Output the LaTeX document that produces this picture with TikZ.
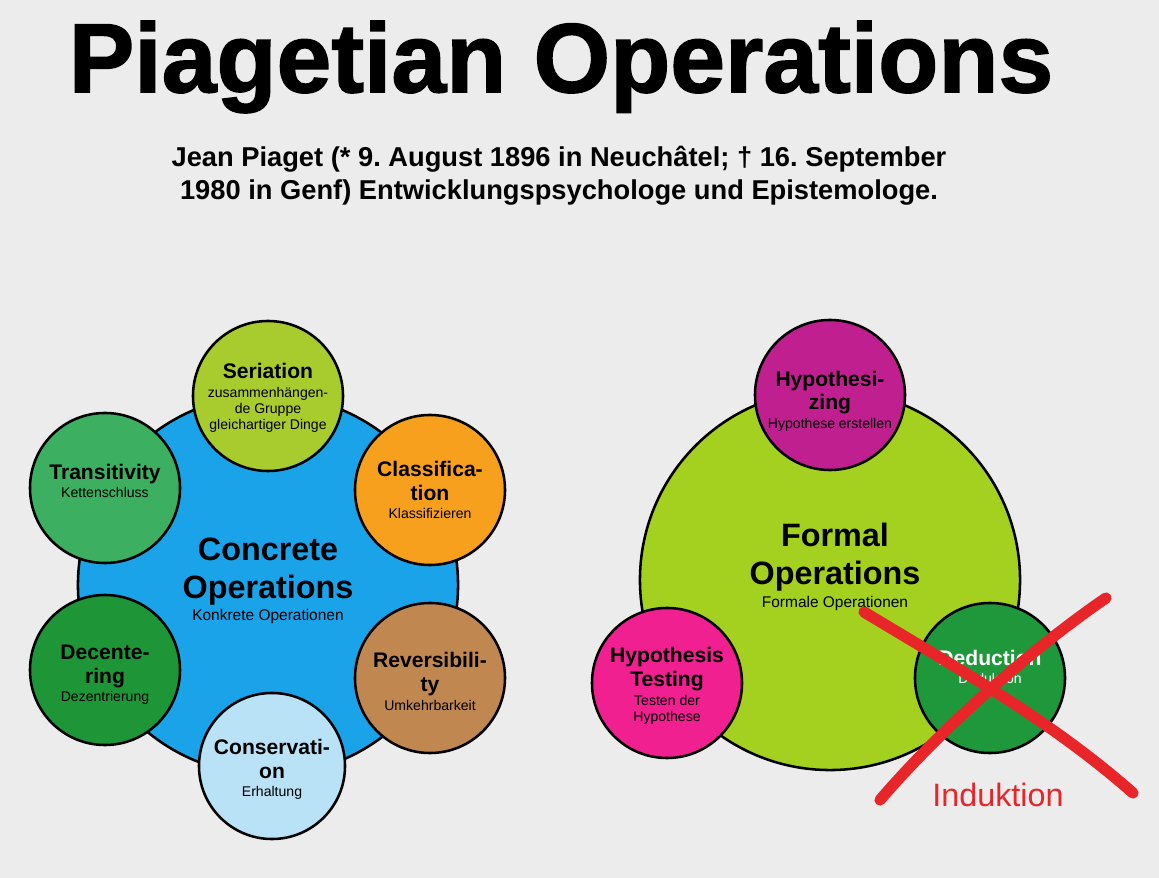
\documentclass[tikz,border=0pt]{standalone}
\usepackage{fontspec}
\setmainfont{Liberation Sans}
\newfontfamily\titlefont[UprightFont={* Bold}, FakeBold=1.5]{Liberation Sans}
\usepackage{tikz}

\definecolor{paper}{RGB}{236,236,236}
\definecolor{concblue}{RGB}{26,163,232}
\definecolor{serigreen}{RGB}{168,204,46}
\definecolor{classorange}{RGB}{246,160,30}
\definecolor{revbrown}{RGB}{192,136,80}
\definecolor{conslight}{RGB}{186,226,246}
\definecolor{decgreen}{RGB}{30,150,56}
\definecolor{transgreen}{RGB}{60,176,96}
\definecolor{formlime}{RGB}{164,208,32}
\definecolor{hypmagenta}{RGB}{192,32,143}
\definecolor{testpink}{RGB}{240,32,144}
\definecolor{dedgreen}{RGB}{30,152,58}
\definecolor{xred}{RGB}{232,38,42}

\newcommand{\optitle}{\fontsize{15}{17}\selectfont\bfseries}
\newcommand{\opnote}{\fontsize{10}{11.5}\selectfont\mdseries}
% optional argument: space above the text, to move it down
\newcommand{\circletext}[3][0pt]{\parbox{3.1cm}{\centering\vspace*{#1}\optitle #2\par\vspace{1.5pt}\opnote #3\par}}
\newcommand{\bigtext}[2]{\parbox{8cm}{\centering\fontsize{23}{27}\selectfont\bfseries #1\par\vspace{3pt}\fontsize{11}{13}\selectfont\mdseries #2\par}}

\begin{document}
\begin{tikzpicture}[x=0.025cm, y=-0.025cm,
	bubble/.style={draw, circle, line width=1.8pt, inner sep=0pt},
	big/.style={bubble, minimum size=9.5cm},
	small/.style={bubble, minimum size=3.75cm}]

	\fill[paper] (0,0) rectangle (1159,878);
	\useasboundingbox (0,0) rectangle (1159,878);

	\node (title) at (561,67) {\fontsize{70}{80}\selectfont\titlefont Piagetian Operations};
	\node[align=center, font=\fontsize{19.4}{23.5}\selectfont\bfseries\frenchspacing] (intro) at (559,176) {Jean Piaget (* 9. August 1896 in Neuchâtel; † 16. September\\
		1980 in Genf) Entwicklungspsychologe und Epistemologe.};

	% concrete operations
	\node[big, fill=concblue] (conc) at (268,585) {};
	\node (conctext) at (268,581) {\bigtext{Concrete\\Operations}{Konkrete Operationen}};

	\node[small, fill=serigreen] (seri) at (268,396) {\circletext[3pt]{Seriation}{zusammenhängen-\\de Gruppe\\gleichartiger Dinge}};
	\node[small, fill=classorange] (class) at (430,490) {\circletext{Classifica-\\tion}{Klassifizieren}};
	\node[small, fill=revbrown] (rev) at (430,678) {\circletext[5pt]{Reversibili-\\ty}{Umkehrbarkeit}};
	\node[small, fill=conslight, minimum size=3.65cm] (cons) at (272,766) {\circletext[5pt]{Conservati-\\on}{Erhaltung}};
	\node[small, fill=decgreen] (dec) at (105,670) {\circletext[7pt]{Decente-\\ring}{Dezentrierung}};
	\node[small, fill=transgreen] (trans) at (105,488) {\circletext{Transitivity}{Kettenschluss\\[10pt]}};

	% formal operations
	\node[big, fill=formlime] (form) at (830,580) {};
	\node (formtext) at (835,567) {\bigtext{Formal\\Operations}{Formale Operationen}};

	\node[small, fill=hypmagenta] (hyp) at (830,395) {\circletext[8.5pt]{Hypothesi-\\zing}{Hypothese erstellen}};
	\node[small, fill=testpink] (test) at (667,683) {\circletext[4pt]{Hypothesis\\Testing}{Testen der\\Hypothese}};
	\node[small, fill=dedgreen, text=white] (ded) at (990,678) {\circletext{Deduction}{Deduktion\\[16pt]}};

	% crossed out
	\draw[xred, line width=8pt, line cap=round] (864,612) .. controls (960,670) and (1050,720) .. (1133,793);
	\draw[xred, line width=8pt, line cap=round] (1106,598) .. controls (1030,650) and (940,730) .. (880,800);
	\node[text=xred] (induk) at (998,795) {\fontsize{23}{26}\selectfont Induktion};
\end{tikzpicture}
\end{document}
